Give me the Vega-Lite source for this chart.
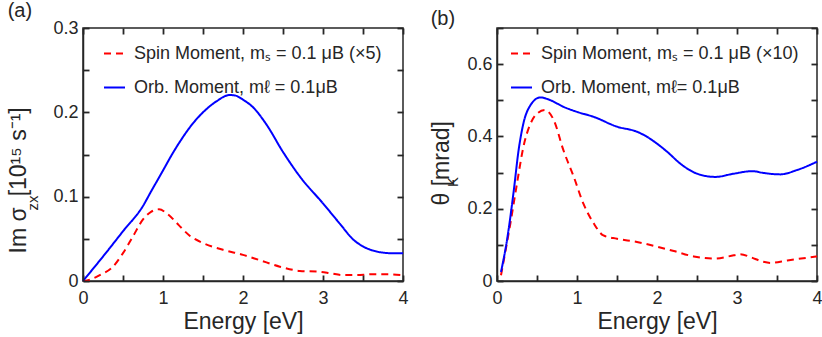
{
  "$schema": "https://vega.github.io/schema/vega-lite/v6.json",
  "background": "white",
  "padding": {"left": 6, "top": 0, "right": 2, "bottom": 0},
  "spacing": 20,
  "datasets": {
    "a": [
      {"s": "Spin Moment, mₛ = 0.1 μB (×5)", "E": 0, "v": 0},
      {"s": "Spin Moment, mₛ = 0.1 μB (×5)", "E": 0.1, "v": 0.002},
      {"s": "Spin Moment, mₛ = 0.1 μB (×5)", "E": 0.21, "v": 0.007},
      {"s": "Spin Moment, mₛ = 0.1 μB (×5)", "E": 0.375, "v": 0.017},
      {"s": "Spin Moment, mₛ = 0.1 μB (×5)", "E": 0.5, "v": 0.033},
      {"s": "Spin Moment, mₛ = 0.1 μB (×5)", "E": 0.625, "v": 0.053},
      {"s": "Spin Moment, mₛ = 0.1 μB (×5)", "E": 0.75, "v": 0.073},
      {"s": "Spin Moment, mₛ = 0.1 μB (×5)", "E": 0.85, "v": 0.082},
      {"s": "Spin Moment, mₛ = 0.1 μB (×5)", "E": 0.95, "v": 0.085},
      {"s": "Spin Moment, mₛ = 0.1 μB (×5)", "E": 1.05, "v": 0.08},
      {"s": "Spin Moment, mₛ = 0.1 μB (×5)", "E": 1.2, "v": 0.066},
      {"s": "Spin Moment, mₛ = 0.1 μB (×5)", "E": 1.33, "v": 0.054},
      {"s": "Spin Moment, mₛ = 0.1 μB (×5)", "E": 1.5, "v": 0.045},
      {"s": "Spin Moment, mₛ = 0.1 μB (×5)", "E": 1.75, "v": 0.037},
      {"s": "Spin Moment, mₛ = 0.1 μB (×5)", "E": 2.0, "v": 0.031},
      {"s": "Spin Moment, mₛ = 0.1 μB (×5)", "E": 2.2, "v": 0.025},
      {"s": "Spin Moment, mₛ = 0.1 μB (×5)", "E": 2.46, "v": 0.017},
      {"s": "Spin Moment, mₛ = 0.1 μB (×5)", "E": 2.71, "v": 0.012},
      {"s": "Spin Moment, mₛ = 0.1 μB (×5)", "E": 2.96, "v": 0.011},
      {"s": "Spin Moment, mₛ = 0.1 μB (×5)", "E": 3.1, "v": 0.009},
      {"s": "Spin Moment, mₛ = 0.1 μB (×5)", "E": 3.25, "v": 0.007},
      {"s": "Spin Moment, mₛ = 0.1 μB (×5)", "E": 3.42, "v": 0.007},
      {"s": "Spin Moment, mₛ = 0.1 μB (×5)", "E": 3.6, "v": 0.008},
      {"s": "Spin Moment, mₛ = 0.1 μB (×5)", "E": 3.8, "v": 0.008},
      {"s": "Spin Moment, mₛ = 0.1 μB (×5)", "E": 4.0, "v": 0.007},
      {"s": "Orb. Moment, mℓ = 0.1μB", "E": 0, "v": 0},
      {"s": "Orb. Moment, mℓ = 0.1μB", "E": 0.25, "v": 0.029},
      {"s": "Orb. Moment, mℓ = 0.1μB", "E": 0.5, "v": 0.059},
      {"s": "Orb. Moment, mℓ = 0.1μB", "E": 0.75, "v": 0.089},
      {"s": "Orb. Moment, mℓ = 0.1μB", "E": 0.85, "v": 0.106},
      {"s": "Orb. Moment, mℓ = 0.1μB", "E": 1.0, "v": 0.131},
      {"s": "Orb. Moment, mℓ = 0.1μB", "E": 1.1, "v": 0.148},
      {"s": "Orb. Moment, mℓ = 0.1μB", "E": 1.21, "v": 0.165},
      {"s": "Orb. Moment, mℓ = 0.1μB", "E": 1.375, "v": 0.187},
      {"s": "Orb. Moment, mℓ = 0.1μB", "E": 1.5, "v": 0.2},
      {"s": "Orb. Moment, mℓ = 0.1μB", "E": 1.667, "v": 0.213},
      {"s": "Orb. Moment, mℓ = 0.1μB", "E": 1.83, "v": 0.2205},
      {"s": "Orb. Moment, mℓ = 0.1μB", "E": 1.9, "v": 0.22},
      {"s": "Orb. Moment, mℓ = 0.1μB", "E": 2.0, "v": 0.215},
      {"s": "Orb. Moment, mℓ = 0.1μB", "E": 2.125, "v": 0.206},
      {"s": "Orb. Moment, mℓ = 0.1μB", "E": 2.29, "v": 0.186},
      {"s": "Orb. Moment, mℓ = 0.1μB", "E": 2.5, "v": 0.153},
      {"s": "Orb. Moment, mℓ = 0.1μB", "E": 2.71, "v": 0.124},
      {"s": "Orb. Moment, mℓ = 0.1μB", "E": 3.0, "v": 0.092},
      {"s": "Orb. Moment, mℓ = 0.1μB", "E": 3.21, "v": 0.068},
      {"s": "Orb. Moment, mℓ = 0.1μB", "E": 3.38, "v": 0.049},
      {"s": "Orb. Moment, mℓ = 0.1μB", "E": 3.5, "v": 0.041},
      {"s": "Orb. Moment, mℓ = 0.1μB", "E": 3.67, "v": 0.035},
      {"s": "Orb. Moment, mℓ = 0.1μB", "E": 3.85, "v": 0.033},
      {"s": "Orb. Moment, mℓ = 0.1μB", "E": 4.0, "v": 0.033}
    ],
    "b": [
      {"s": "Spin Moment, mₛ = 0.1 μB (×10)", "E": 0.05, "v": 0.016},
      {"s": "Spin Moment, mₛ = 0.1 μB (×10)", "E": 0.167, "v": 0.159},
      {"s": "Spin Moment, mₛ = 0.1 μB (×10)", "E": 0.25, "v": 0.27},
      {"s": "Spin Moment, mₛ = 0.1 μB (×10)", "E": 0.33, "v": 0.371},
      {"s": "Spin Moment, mₛ = 0.1 μB (×10)", "E": 0.42, "v": 0.436},
      {"s": "Spin Moment, mₛ = 0.1 μB (×10)", "E": 0.5, "v": 0.463},
      {"s": "Spin Moment, mₛ = 0.1 μB (×10)", "E": 0.6, "v": 0.473},
      {"s": "Spin Moment, mₛ = 0.1 μB (×10)", "E": 0.71, "v": 0.445},
      {"s": "Spin Moment, mₛ = 0.1 μB (×10)", "E": 0.83, "v": 0.362},
      {"s": "Spin Moment, mₛ = 0.1 μB (×10)", "E": 0.96, "v": 0.288},
      {"s": "Spin Moment, mₛ = 0.1 μB (×10)", "E": 1.08, "v": 0.214},
      {"s": "Spin Moment, mₛ = 0.1 μB (×10)", "E": 1.21, "v": 0.159},
      {"s": "Spin Moment, mₛ = 0.1 μB (×10)", "E": 1.33, "v": 0.126},
      {"s": "Spin Moment, mₛ = 0.1 μB (×10)", "E": 1.5, "v": 0.117},
      {"s": "Spin Moment, mₛ = 0.1 μB (×10)", "E": 1.75, "v": 0.108},
      {"s": "Spin Moment, mₛ = 0.1 μB (×10)", "E": 2.0, "v": 0.095},
      {"s": "Spin Moment, mₛ = 0.1 μB (×10)", "E": 2.21, "v": 0.083},
      {"s": "Spin Moment, mₛ = 0.1 μB (×10)", "E": 2.46, "v": 0.068},
      {"s": "Spin Moment, mₛ = 0.1 μB (×10)", "E": 2.71, "v": 0.062},
      {"s": "Spin Moment, mₛ = 0.1 μB (×10)", "E": 2.96, "v": 0.071},
      {"s": "Spin Moment, mₛ = 0.1 μB (×10)", "E": 3.04, "v": 0.074},
      {"s": "Spin Moment, mₛ = 0.1 μB (×10)", "E": 3.17, "v": 0.066},
      {"s": "Spin Moment, mₛ = 0.1 μB (×10)", "E": 3.33, "v": 0.053},
      {"s": "Spin Moment, mₛ = 0.1 μB (×10)", "E": 3.42, "v": 0.05},
      {"s": "Spin Moment, mₛ = 0.1 μB (×10)", "E": 3.63, "v": 0.057},
      {"s": "Spin Moment, mₛ = 0.1 μB (×10)", "E": 4.0, "v": 0.068},
      {"s": "Orb. Moment,  mℓ= 0.1μB", "E": 0.05, "v": 0.025},
      {"s": "Orb. Moment,  mℓ= 0.1μB", "E": 0.125, "v": 0.113},
      {"s": "Orb. Moment,  mℓ= 0.1μB", "E": 0.21, "v": 0.251},
      {"s": "Orb. Moment,  mℓ= 0.1μB", "E": 0.27, "v": 0.362},
      {"s": "Orb. Moment,  mℓ= 0.1μB", "E": 0.33, "v": 0.436},
      {"s": "Orb. Moment,  mℓ= 0.1μB", "E": 0.42, "v": 0.487},
      {"s": "Orb. Moment,  mℓ= 0.1μB", "E": 0.54, "v": 0.508},
      {"s": "Orb. Moment,  mℓ= 0.1μB", "E": 0.67, "v": 0.5},
      {"s": "Orb. Moment,  mℓ= 0.1μB", "E": 0.83, "v": 0.482},
      {"s": "Orb. Moment,  mℓ= 0.1μB", "E": 1.0, "v": 0.468},
      {"s": "Orb. Moment,  mℓ= 0.1μB", "E": 1.21, "v": 0.454},
      {"s": "Orb. Moment,  mℓ= 0.1μB", "E": 1.5, "v": 0.427},
      {"s": "Orb. Moment,  mℓ= 0.1μB", "E": 1.75, "v": 0.413},
      {"s": "Orb. Moment,  mℓ= 0.1μB", "E": 1.875, "v": 0.399},
      {"s": "Orb. Moment,  mℓ= 0.1μB", "E": 2.0, "v": 0.38},
      {"s": "Orb. Moment,  mℓ= 0.1μB", "E": 2.13, "v": 0.357},
      {"s": "Orb. Moment,  mℓ= 0.1μB", "E": 2.29, "v": 0.325},
      {"s": "Orb. Moment,  mℓ= 0.1μB", "E": 2.5, "v": 0.297},
      {"s": "Orb. Moment,  mℓ= 0.1μB", "E": 2.73, "v": 0.288},
      {"s": "Orb. Moment,  mℓ= 0.1μB", "E": 2.96, "v": 0.297},
      {"s": "Orb. Moment,  mℓ= 0.1μB", "E": 3.19, "v": 0.304},
      {"s": "Orb. Moment,  mℓ= 0.1μB", "E": 3.33, "v": 0.299},
      {"s": "Orb. Moment,  mℓ= 0.1μB", "E": 3.54, "v": 0.295},
      {"s": "Orb. Moment,  mℓ= 0.1μB", "E": 3.75, "v": 0.307},
      {"s": "Orb. Moment,  mℓ= 0.1μB", "E": 4.0, "v": 0.33}
    ]
  },
  "hconcat": [
    {
      "title": {"text": "(a)", "anchor": "start", "frame": "bounds", "fontSize": 20, "fontWeight": "normal", "color": "#262626", "offset": -2},
      "width": 320,
      "height": 253,
      "data": {"name": "a"},
      "resolve": {"axis": {"x": "independent", "y": "independent"}},
      "layer": [
        {
          "mark": {"type": "line", "strokeWidth": 2, "interpolate": "monotone"},
          "encoding": {
            "x": {"field": "E", "type": "quantitative", "scale": {"domain": [0, 4], "nice": false},
                  "axis": {"title": "Energy [eV]", "ticks": false, "values": [0, 1, 2, 3, 4], "format": "~g"}},
            "y": {"field": "v", "type": "quantitative", "scale": {"domain": [0, 0.3], "nice": false},
                  "axis": {"title": "Im σ    \u2009[10¹⁵ s⁻¹]", "ticks": false, "values": [0, 0.1, 0.2, 0.3], "format": "~g",
                           "titleX": -57.3, "titleY": 225, "titleAlign": "left", "titleBaseline": "alphabetic", "titleAngle": -90}},
            "color": {"field": "s", "type": "nominal", "sort": null,
                      "scale": {"domain": ["Spin Moment, mₛ = 0.1 μB (×5)", "Orb. Moment, mℓ = 0.1μB"], "range": ["#ff0000", "#0000ff"]},
                      "legend": {"title": null, "orient": "none", "legendX": 20, "legendY": 14}},
            "strokeDash": {"field": "s", "type": "nominal", "sort": null,
                      "scale": {"domain": ["Spin Moment, mₛ = 0.1 μB (×5)", "Orb. Moment, mℓ = 0.1μB"], "range": [[7, 5], [1, 0]]},
                      "legend": {"title": null, "orient": "none", "legendX": 20, "legendY": 14}}
          }
        },
        {
          "mark": {"type": "point", "opacity": 0},
          "encoding": {
            "x": {"field": "E", "type": "quantitative", "axis": {"orient": "top", "offset": -6, "ticks": true, "tickSize": 6, "tickWidth": 1.8, "tickColor": "#262626", "zindex": 2, "labels": false, "title": null, "domain": false, "values": [0, 0.5, 1, 1.5, 2, 2.5, 3, 3.5, 4]}},
            "y": {"field": "v", "type": "quantitative", "axis": {"orient": "right", "offset": -6, "ticks": true, "tickSize": 6, "tickWidth": 1.8, "tickColor": "#262626", "zindex": 2, "labels": false, "title": null, "domain": false, "values": [0, 0.05, 0.1, 0.15, 0.2, 0.25, 0.3]}}
          }
        },
        {
          "mark": {"type": "point", "opacity": 0},
          "encoding": {
            "x": {"field": "E", "type": "quantitative", "axis": {"orient": "bottom", "offset": -6, "ticks": true, "tickSize": 6, "tickWidth": 1.8, "tickColor": "#262626", "zindex": 2, "labels": false, "title": null, "domain": false, "values": [0, 0.5, 1, 1.5, 2, 2.5, 3, 3.5, 4]}},
            "y": {"field": "v", "type": "quantitative", "axis": {"orient": "left", "offset": -6, "ticks": true, "tickSize": 6, "tickWidth": 1.8, "tickColor": "#262626", "zindex": 2, "labels": false, "domain": false, "values": [0, 0.05, 0.1, 0.15, 0.2, 0.25, 0.3],
                  "title": "zx", "titleFontSize": 15, "titleX": -51.3, "titleY": 174.5, "titleAlign": "center", "titleBaseline": "alphabetic", "titleAngle": -90}}
          }
        }
      ]
    },
    {
      "title": {"text": "(b)", "anchor": "start", "frame": "bounds", "fontSize": 20, "fontWeight": "normal", "color": "#262626", "offset": -2},
      "width": 320,
      "height": 253,
      "data": {"name": "b"},
      "resolve": {"axis": {"x": "independent", "y": "independent"}},
      "layer": [
        {
          "mark": {"type": "line", "strokeWidth": 2, "interpolate": "monotone"},
          "encoding": {
            "x": {"field": "E", "type": "quantitative", "scale": {"domain": [0, 4], "nice": false},
                  "axis": {"title": "Energy [eV]", "ticks": false, "values": [0, 1, 2, 3, 4], "format": "~g"}},
            "y": {"field": "v", "type": "quantitative", "scale": {"domain": [0, 0.7], "nice": false},
                  "axis": {"title": "θ   [mrad]", "ticks": false, "values": [0, 0.2, 0.4, 0.6], "format": "~g",
                           "titleX": -48.3, "titleY": 177, "titleAlign": "left", "titleBaseline": "alphabetic", "titleAngle": -90}},
            "color": {"field": "s", "type": "nominal", "sort": null,
                      "scale": {"domain": ["Spin Moment, mₛ = 0.1 μB (×10)", "Orb. Moment,  mℓ= 0.1μB"], "range": ["#ff0000", "#0000ff"]},
                      "legend": {"title": null, "orient": "none", "legendX": 13, "legendY": 14}},
            "strokeDash": {"field": "s", "type": "nominal", "sort": null,
                      "scale": {"domain": ["Spin Moment, mₛ = 0.1 μB (×10)", "Orb. Moment,  mℓ= 0.1μB"], "range": [[7, 5], [1, 0]]},
                      "legend": {"title": null, "orient": "none", "legendX": 13, "legendY": 14}}
          }
        },
        {
          "mark": {"type": "point", "opacity": 0},
          "encoding": {
            "x": {"field": "E", "type": "quantitative", "axis": {"orient": "top", "offset": -6, "ticks": true, "tickSize": 6, "tickWidth": 1.8, "tickColor": "#262626", "zindex": 2, "labels": false, "title": null, "domain": false, "values": [0, 0.5, 1, 1.5, 2, 2.5, 3, 3.5, 4]}},
            "y": {"field": "v", "type": "quantitative", "axis": {"orient": "right", "offset": -6, "ticks": true, "tickSize": 6, "tickWidth": 1.8, "tickColor": "#262626", "zindex": 2, "labels": false, "title": null, "domain": false, "values": [0, 0.1, 0.2, 0.3, 0.4, 0.5, 0.6, 0.7]}}
          }
        },
        {
          "mark": {"type": "point", "opacity": 0},
          "encoding": {
            "x": {"field": "E", "type": "quantitative", "axis": {"orient": "bottom", "offset": -6, "ticks": true, "tickSize": 6, "tickWidth": 1.8, "tickColor": "#262626", "zindex": 2, "labels": false, "title": null, "domain": false, "values": [0, 0.5, 1, 1.5, 2, 2.5, 3, 3.5, 4]}},
            "y": {"field": "v", "type": "quantitative", "axis": {"orient": "left", "offset": -6, "ticks": true, "tickSize": 6, "tickWidth": 1.8, "tickColor": "#262626", "zindex": 2, "labels": false, "domain": false, "values": [0, 0.1, 0.2, 0.3, 0.4, 0.5, 0.6, 0.7],
                  "title": "K", "titleFontSize": 15, "titleX": -45.3, "titleY": 153.5, "titleAlign": "center", "titleBaseline": "alphabetic", "titleAngle": -90}}
          }
        }
      ]
    }
  ],
  "resolve": {"scale": {"color": "independent", "strokeDash": "independent"}, "legend": {"color": "independent", "strokeDash": "independent"}},
  "config": {
    "font": "Liberation Sans",
    "view": {"stroke": "#262626", "strokeWidth": 1.5},
    "axis": {
      "grid": false,
      "ticks": true,
      "domainColor": "#262626",
      "domainWidth": 1.5,
      "tickColor": "#262626",
      "tickWidth": 1.6,
      "tickOpacity": 1,
      "labelColor": "#262626",
      "titleColor": "#262626",
      "labelFont": "Liberation Sans",
      "titleFont": "Liberation Sans",
      "labelFontSize": 18,
      "titleFontSize": 23,
      "titleFontWeight": "normal",
      "labelFlush": false,
      "labelOverlap": false
    },
    "axisX": {"labelPadding": 8, "titlePadding": 3},
    "axisY": {"labelPadding": 5},
    "legend": {
      "labelFont": "Liberation Sans",
      "labelFontSize": 18,
      "labelColor": "#262626",
      "labelLimit": 400,
      "symbolType": "stroke",
      "symbolStrokeWidth": 2,
      "symbolSize": 441,
      "rowPadding": 13,
      "labelOffset": 8,
      "padding": 0
    }
  }
}
